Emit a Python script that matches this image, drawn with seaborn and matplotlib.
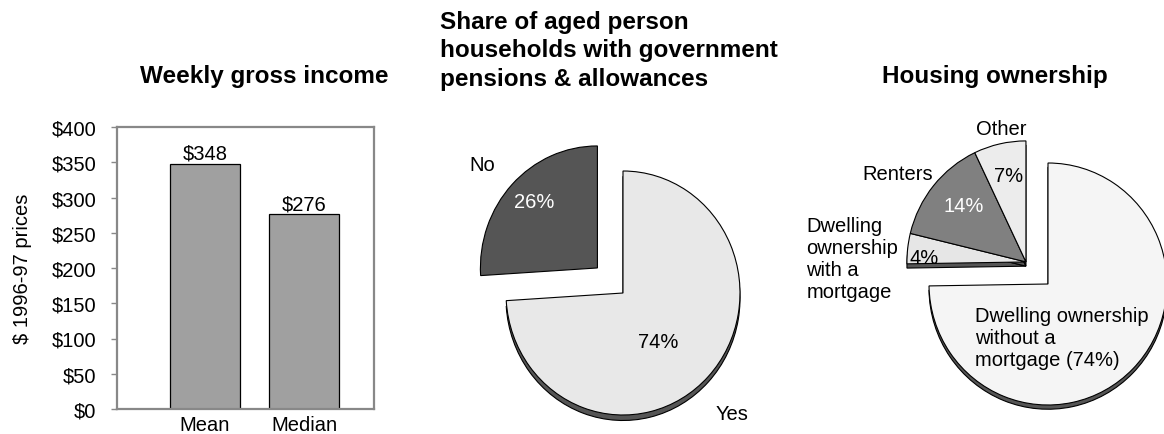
import numpy as np
import pandas as pd
import matplotlib
matplotlib.use("Agg")
import matplotlib.pyplot as plt
import seaborn as sns

# ---------------- data ----------------
income_stats = ["Mean", "Median"]
income_values = [348, 276]
income_ticks = [0, 50, 100, 150, 200, 250, 300, 350, 400]

pension_labels = ["Yes", "No"]
pension_shares = [74, 26]

housing_labels = ["Dwelling ownership\nwithout a\nmortgage (74%)",
                  "Dwelling\nownership\nwith a\nmortgage",
                  "Renters", "Other"]
housing_pct_labels = ["", "4%", "14%", "7%"]
housing_shares = [74, 4, 14, 7]

title_income = "Weekly gross income"
title_pension = "Share of aged person\nhouseholds with government\npensions & allowances"
title_housing = "Housing ownership"
ylabel_income = "$ 1996-97 prices"

# ---------------- style ----------------
sns.set_theme(style="white")
plt.rcParams["font.family"] = ["Liberation Sans", "DejaVu Sans"]
for key in ["text.color", "axes.labelcolor", "xtick.color", "ytick.color"]:
    plt.rcParams[key] = "black"
FS = 14.5
TFS = 17.5
W, H = 1164, 435

fig = plt.figure(figsize=(W / 100, H / 100), dpi=100)


def px_axes(left, top, right, bottom):
    return fig.add_axes([left / W, 1 - bottom / H, (right - left) / W, (bottom - top) / H])


# ---------------- bar chart ----------------
axb = px_axes(117, 128, 374, 410)
df = pd.DataFrame({"stat": income_stats, "value": income_values})
sns.barplot(data=df, x="stat", y="value", ax=axb, color="#a0a0a0", saturation=1,
            width=0.707, edgecolor="black", linewidth=0.9)
axb.set_xlim(-0.889, 1.707)
axb.set_ylim(0, 400)
axb.set_yticks(income_ticks)
axb.set_yticklabels([f"${v}" for v in income_ticks])
for cont in axb.containers:
    axb.bar_label(cont, labels=[f"${v}" for v in income_values], padding=1, fontsize=FS)
axb.set_xlabel("")
axb.set_ylabel(ylabel_income, fontsize=FS, labelpad=14)
for s in axb.spines.values():
    s.set_color("#888888")
    s.set_linewidth(1.6)
axb.tick_params(axis="y", left=True, length=4, width=1, color="#888888", pad=11,
                labelsize=FS, labelcolor="black", direction="out")
axb.tick_params(axis="x", bottom=False, length=0, pad=4, labelsize=FS, labelcolor="black")
fig.text(264 / W, 1 - 83 / H, title_income, ha="center", va="baseline",
         fontsize=TFS, fontweight="bold", color="black")

SHADOW = "#555555"
WEDGE = dict(edgecolor="black", linewidth=0.8)


def polar(center, d, ang):
    a = np.deg2rad(ang)
    return center[0] + d * np.cos(a), center[1] + d * np.sin(a)


# ---------------- pie 1 ----------------
C1 = (623, 294)
RX1, RY1 = 117, 122
XL1, YL1 = (-1.6, 1.6), (-1.25, 1.5)
axp1 = px_axes(C1[0] + XL1[0] * RX1, C1[1] - YL1[1] * RY1,
               C1[0] + XL1[1] * RX1, C1[1] - YL1[0] * RY1)
explode1 = [0, 0.3]
s1, _ = axp1.pie(pension_shares, startangle=90, counterclock=False, explode=explode1,
                 center=(0, -0.045), colors=[SHADOW, SHADOW], wedgeprops=WEDGE)
s1[1].set_visible(False)
w1, _ = axp1.pie(pension_shares, startangle=90, counterclock=False, explode=explode1,
                 colors=["#e8e8e8", "#555555"], wedgeprops=WEDGE)
axp1.set_aspect("auto")
axp1.set_xlim(*XL1)
axp1.set_ylim(*YL1)
pie1_label_pos = [(1.36, -46.8), (1.30, 139.2)]
pie1_pct_pos = [(0.50, -53.3), (0.766, 135)]
pie1_pct_colors = ["black", "white"]
for wdg, lab, share, lp, pp, pc in zip(w1, pension_labels, pension_shares,
                                       pie1_label_pos, pie1_pct_pos, pie1_pct_colors):
    axp1.text(*polar(wdg.center, *lp), lab, ha="center", va="center", fontsize=FS)
    axp1.text(*polar(wdg.center, *pp), f"{share}%", ha="center", va="center",
              fontsize=FS, color=pc)
fig.text(440 / W, 1 - 11 / H, title_pension, ha="left", va="top",
         fontsize=TFS, fontweight="bold", linespacing=1.3, color="black")

# ---------------- pie 2 ----------------
C2 = (1048, 285)
RX2, RY2 = 119, 121
XL2, YL2 = (-1.75, 1.2), (-1.25, 1.5)
axp2 = px_axes(C2[0] + XL2[0] * RX2, C2[1] - YL2[1] * RY2,
               C2[0] + XL2[1] * RX2, C2[1] - YL2[0] * RY2)
group_shift = 0.26
ws, _ = axp2.pie(housing_shares, startangle=90, counterclock=False,
                 center=(0, -0.035), colors=[SHADOW] * 4, wedgeprops=WEDGE)
w2, _ = axp2.pie(housing_shares, startangle=90, counterclock=False,
                 colors=["#f5f5f5", "#e6e6e6", "#808080", "#ececec"], wedgeprops=WEDGE)
# explode the small slices together as one group
t_start = w2[1].theta2
t_end = w2[-1].theta1
gmid = np.deg2rad((t_start + t_end) / 2)
dx, dy = group_shift * np.cos(gmid), group_shift * np.sin(gmid)
for wdg in list(ws[1:]) + list(w2[1:]):
    cx, cy = wdg.center
    wdg.set_center((cx + dx, cy + dy))
axp2.set_aspect("auto")
axp2.set_xlim(*XL2)
axp2.set_ylim(*YL2)
pie2_label_pos = [(0.461, -75), (1.46, 179), (1.30, 146), (1.12, 100.8)]
pie2_pct_pos = [None, (0.858, 177.3), (0.697, 138.4), (0.725, 101.4)]
pie2_pct_colors = ["black", "black", "white", "black"]
for i, (wdg, lab, pl) in enumerate(zip(w2, housing_labels, housing_pct_labels)):
    axp2.text(*polar(wdg.center, *pie2_label_pos[i]), lab, ha="center", va="center",
              fontsize=FS, multialignment="left")
    if pl:
        axp2.text(*polar(wdg.center, *pie2_pct_pos[i]), pl, ha="center", va="center",
                  fontsize=FS, color=pie2_pct_colors[i])
fig.text(995 / W, 1 - 83 / H, title_housing, ha="center", va="baseline",
         fontsize=TFS, fontweight="bold", color="black")

fig.savefig("out.png", dpi=100)
